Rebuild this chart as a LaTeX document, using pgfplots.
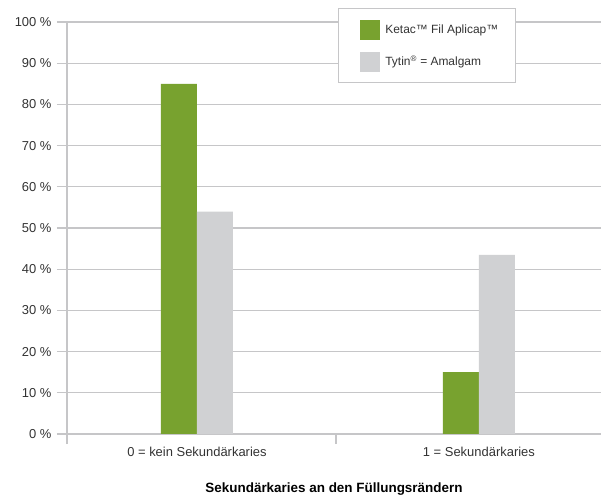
\documentclass[border=0pt]{standalone}
\usepackage{fontspec}
\setmainfont{Liberation Sans}
\usepackage{pgfplots}
\pgfplotsset{compat=1.18}
\definecolor{ketac}{HTML}{78A22F}
\definecolor{tytin}{HTML}{D0D1D3}
\definecolor{gridc}{HTML}{C6C6C8}
\definecolor{txt}{HTML}{333333}
\begin{document}
\begin{tikzpicture}
\begin{axis}[
    name=ax,
    scale only axis,
    width=534bp, height=412bp,
    ybar=0pt, bar width=36bp,
    xmin=-0.461, xmax=1.433,
    ymin=0, ymax=100,
    axis x line=bottom, axis y line=left,
    axis line style={gridc, line width=1.2pt, -},
    xtick={0,1}, xticklabels={0 = kein Sekundärkaries, 1 = Sekundärkaries},
    minor xtick={-0.461,0.493},
    ytick={0,10,...,100},
    yticklabel={\pgfmathprintnumber{\tick}~\%},
    /pgf/number format/assume math mode=true,
    tick align=outside,
    major x tick style={draw=none},
    minor x tick style={gridc, line width=1.2pt},
    minor tick length=10bp,
    major tick length=10bp,
    ytick style={gridc, line width=1.2pt},
    ymajorgrids,
    grid style={gridc, line width=1.2pt},
    tick label style={font=\fontsize{13}{15}\selectfont, text=txt},
    yticklabel style={xshift=-2bp},
    xlabel={\textbf{Sekundärkaries an den Füllungsrändern}},
    xlabel style={font=\fontsize{13.5}{15}\selectfont, text=black, yshift=-19bp},
    legend style={at={(0.507,1.034)}, anchor=north west, draw=gridc,
        line width=1.2pt, fill=white, font=\fontsize{12}{14}\selectfont,
        text=txt, inner xsep=15bp, inner ysep=11bp, row sep=12bp,
        cells={anchor=west}},
    legend image code/.code={\fill[#1, draw=none] (0bp,-10bp) rectangle (20bp,10bp);
        \path (-7bp,0bp) (23bp,0bp);},
]
\addplot[fill=ketac, draw=none] coordinates {(0,85) (1,15)};
\addlegendentry{Ketac\texttrademark\ Fil Aplicap\texttrademark}
\addplot[fill=tytin, draw=none] coordinates {(0,54) (1,43.5)};
\addlegendentry{Tytin\textsuperscript{\textregistered} = Amalgam}
\end{axis}
\pgfresetboundingbox
\path[use as bounding box] (ax.south west) ++(-67bp,-61bp) rectangle ++(601bp,495bp);
\end{tikzpicture}
\end{document}
